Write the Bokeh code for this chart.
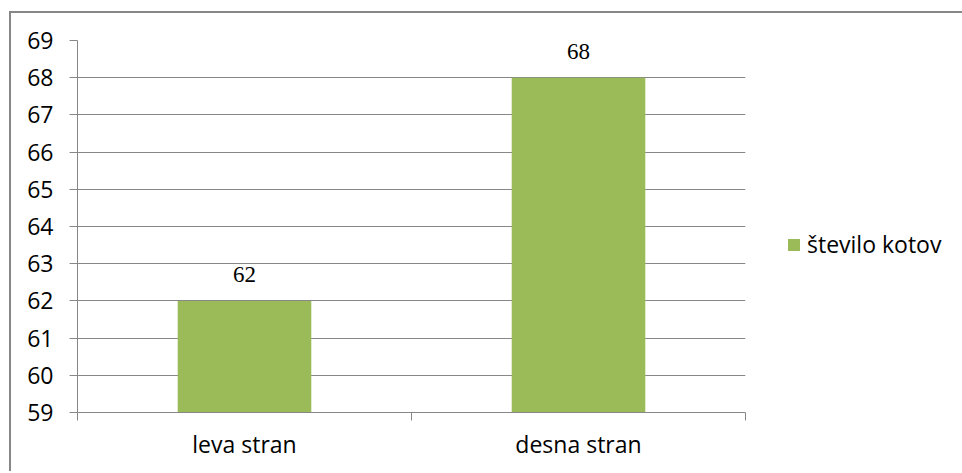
from bokeh.plotting import figure
from bokeh.models import (ColumnDataSource, FixedTicker, Range1d, LabelSet,
                          Legend, LegendItem)
from bokeh.embed import file_html
from bokeh.resources import INLINE

# chart data
categories = ["leva stran", "desna stran"]
values = [62, 68]
series_name = "število kotov"
y_ticks = list(range(59, 70))

FONT = "Open Sans"
GRID = "#878787"
BAR = "#9BBB59"

x_pos = [i + 0.5 for i in range(len(categories))]
source = ColumnDataSource(data=dict(x=x_pos, top=values,
                                    label=[str(v) for v in values]))

p = figure(frame_width=668, frame_height=372, margin=(11, 0, 0, 9),
           x_range=Range1d(0, len(categories)),
           y_range=Range1d(y_ticks[0], y_ticks[-1]),
           output_backend="svg", toolbar_location=None,
           min_border_left=66, min_border_right=217,
           min_border_top=27, min_border_bottom=59,
           styles={"border-left": f"2px solid {GRID}",
                   "border-top": f"2px solid {GRID}"})
p.outline_line_color = None
p.background_fill_color = "white"
p.border_fill_color = "white"

bars = p.vbar(x="x", top="top", bottom=y_ticks[0], width=0.4, source=source,
              fill_color=BAR, line_color=None)

# value labels above the bars
labels = LabelSet(x="x", y="top", text="label", source=source,
                  text_align="center", text_baseline="bottom", y_offset=19,
                  text_font=FONT, text_font_size="23px", text_color="black")
p.add_layout(labels)

# value axis
p.yaxis.ticker = FixedTicker(ticks=y_ticks, minor_ticks=[])
p.yaxis.axis_line_color = GRID
p.yaxis.major_tick_line_color = GRID
p.yaxis.major_tick_out = 8
p.yaxis.major_tick_in = 0
p.yaxis.minor_tick_line_color = None
p.yaxis.major_label_standoff = 16
p.yaxis.major_label_text_font = FONT
p.yaxis.major_label_text_font_size = "23px"
p.yaxis.major_label_text_color = "black"
p.ygrid.ticker = FixedTicker(ticks=y_ticks)
p.ygrid.grid_line_color = GRID
p.ygrid.grid_line_width = 1

# category axis: tick marks between categories, labels at centres
p.xaxis.ticker = FixedTicker(ticks=x_pos,
                             minor_ticks=list(range(len(categories) + 1)))
p.xaxis.major_label_overrides = {x: c for x, c in zip(x_pos, categories)}
p.xaxis.axis_line_color = GRID
p.xaxis.major_tick_line_color = None
p.xaxis.major_tick_out = 0
p.xaxis.major_tick_in = 0
p.xaxis.minor_tick_line_color = GRID
p.xaxis.minor_tick_out = 8
p.xaxis.minor_tick_in = 0
p.xaxis.major_label_standoff = 7
p.xaxis.major_label_text_font = FONT
p.xaxis.major_label_text_font_size = "23px"
p.xaxis.major_label_text_color = "black"
p.xgrid.grid_line_color = None

legend = Legend(items=[LegendItem(label=series_name, renderers=[bars])],
                location=(41, 152), padding=0, margin=0, spacing=0,
                glyph_width=15, glyph_height=15, label_standoff=6,
                label_text_font=FONT, label_text_font_size="23px",
                label_text_color="black", border_line_color=None,
                background_fill_alpha=0)
p.add_layout(legend, "right")

open("out.html", "w").write(file_html(p, INLINE))
